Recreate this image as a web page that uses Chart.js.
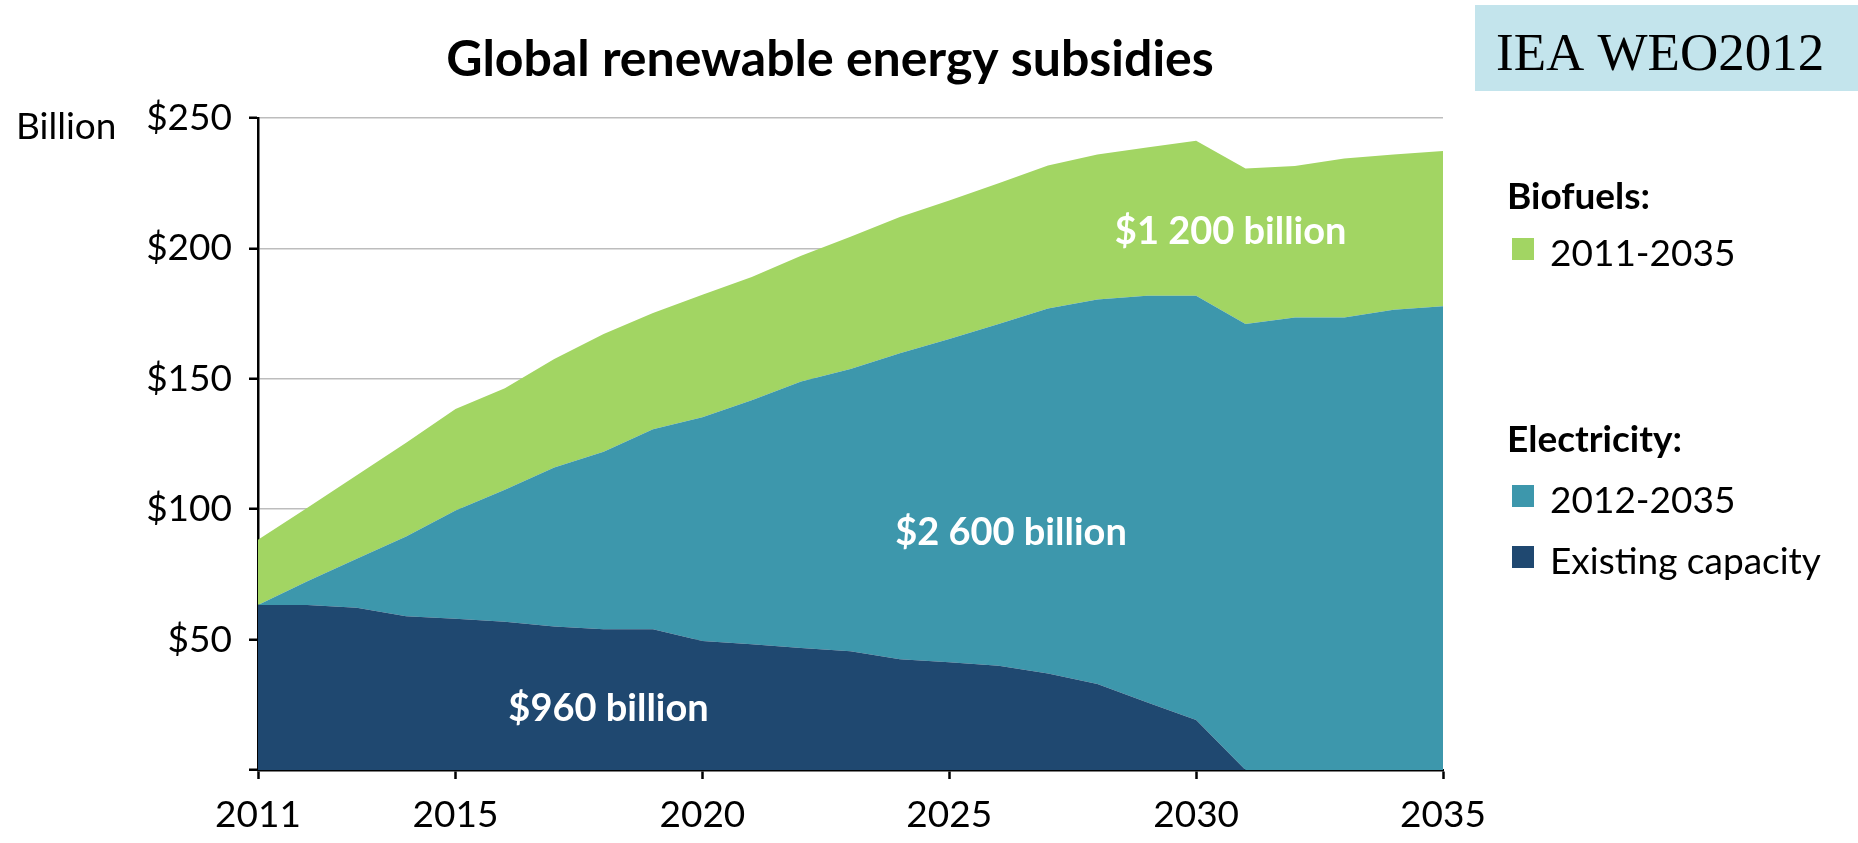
<!DOCTYPE html>
<html>
<head>
<meta charset="utf-8">
<script src="https://cdn.jsdelivr.net/npm/chart.js@4.4.1/dist/chart.umd.min.js"></script>
<style>
  html, body { margin: 0; padding: 0; background: #fff; }
  #wrap { width: 1858px; height: 843px; }
</style>
</head>
<body>
<div id="wrap"><canvas id="subsidies" width="1858" height="843"></canvas></div>
<script>
// Global renewable energy subsidies, $ billion per year
const years = [2011, 2012, 2013, 2014, 2015, 2016, 2017, 2018, 2019, 2020, 2021, 2022, 2023,
               2024, 2025, 2026, 2027, 2028, 2029, 2030, 2031, 2032, 2033, 2034, 2035];

// Electricity: existing capacity
const existingCapacity = [63.3, 63.3, 62.2, 59.0, 58.0, 56.8, 55.0, 54.0, 54.0, 49.5, 48.2, 46.8, 45.5,
                          42.5, 41.3, 40.0, 37.0, 33.0, 26.0, 19.2, 0, 0, 0, 0, 0];

// Electricity: capacity added 2012-2035
const electricityNew = [0, 9.1, 18.8, 30.5, 41.5, 50.7, 61.0, 68.0, 76.7, 85.8, 93.6, 102.2, 108.3,
                        117.3, 124.0, 131.0, 140.0, 147.4, 155.8, 162.6, 171.0, 173.5, 173.5, 176.5, 177.8];

// Biofuels 2011-2035
const biofuels = [25.0, 28.2, 32.0, 36.0, 38.9, 38.9, 41.6, 45.2, 44.5, 46.9, 47.2, 48.2, 50.7,
                  52.2, 53.1, 54.0, 54.8, 55.6, 56.9, 59.5, 59.6, 58.1, 61.0, 59.5, 59.5];

const xTickYears = [2011, 2015, 2020, 2025, 2030, 2035];
const yTickValues = [0, 50, 100, 150, 200, 250];

const GREEN = '#a2d563';
const TEAL = '#3d97ac';
const NAVY = '#1f4870';
const FONT = 'Lato, "Open Sans", sans-serif';

function points(values) {
  return years.map((yr, i) => ({ x: yr, y: values[i] }));
}

function areaSet(label, values, color, fill) {
  return {
    label: label,
    data: points(values),
    backgroundColor: color,
    borderWidth: 0,
    pointRadius: 0,
    tension: 0,
    fill: fill
  };
}

// totals written inside each area, placed in data coordinates
const areaLabels = [
  { text: '$1 200 billion', year: 2030.7, value: 206.5 },
  { text: '$2 600 billion', year: 2026.25, value: 91 },
  { text: '$960 billion', year: 2018.1, value: 23.5 }
];

const legendRows = [
  { text: 'Biofuels:', bold: true, y: 209 },
  { text: '2011-2035', color: GREEN, y: 266 },
  { text: 'Electricity:', bold: true, y: 452 },
  { text: '2012-2035', color: TEAL, y: 513 },
  { text: 'Existing capacity', color: NAVY, y: 574 }
];

const decorations = {
  id: 'decorations',
  afterDatasetsDraw(chart) {
    const ctx = chart.ctx;
    const xs = chart.scales.x, ys = chart.scales.y;
    ctx.save();
    ctx.fillStyle = '#fff';
    ctx.font = 'bold 38px ' + FONT;
    ctx.textAlign = 'center';
    ctx.textBaseline = 'middle';
    areaLabels.forEach(l => {
      ctx.fillText(l.text, xs.getPixelForValue(l.year), ys.getPixelForValue(l.value));
    });
    ctx.restore();
  },
  afterDraw(chart) {
    const ctx = chart.ctx;
    ctx.save();

    // title
    ctx.fillStyle = '#000';
    ctx.font = 'bold 50px ' + FONT;
    ctx.textAlign = 'center';
    ctx.textBaseline = 'alphabetic';
    ctx.fillText('Global renewable energy subsidies', 830, 76);

    // unit next to the top tick
    ctx.font = '37px ' + FONT;
    ctx.textAlign = 'left';
    ctx.textBaseline = 'middle';
    ctx.fillText('Billion', 16, chart.scales.y.getPixelForValue(250) + 9);

    // source box
    ctx.fillStyle = '#c3e4ec';
    ctx.fillRect(1475, 5, 383, 86);
    ctx.fillStyle = '#000';
    ctx.font = '53px "Liberation Serif", "Times New Roman", serif';
    ctx.textBaseline = 'alphabetic';
    ctx.fillText('IEA WEO2012', 1496, 70);

    // legend
    legendRows.forEach(r => {
      ctx.fillStyle = '#000';
      if (r.bold) {
        ctx.font = 'bold 37px ' + FONT;
        ctx.fillText(r.text, 1507, r.y);
      } else {
        ctx.fillStyle = r.color;
        ctx.fillRect(1512, r.y - 28, 22, 22);
        ctx.fillStyle = '#000';
        ctx.font = '37px ' + FONT;
        ctx.fillText(r.text, 1550, r.y);
      }
    });
    ctx.restore();
  }
};

new Chart(document.getElementById('subsidies'), {
  type: 'line',
  data: {
    datasets: [
      areaSet('Existing capacity', existingCapacity, NAVY, 'origin'),
      areaSet('2012-2035', electricityNew, TEAL, '-1'),
      areaSet('2011-2035', biofuels, GREEN, '-1')
    ]
  },
  options: {
    responsive: false,
    animation: false,
    devicePixelRatio: 1,
    layout: { padding: { top: 118, right: 415, left: 0, bottom: 0 } },
    plugins: {
      legend: { display: false },
      title: { display: false },
      tooltip: { enabled: false }
    },
    scales: {
      x: {
        type: 'linear',
        min: 2011,
        max: 2035,
        afterBuildTicks: scale => { scale.ticks = xTickYears.map(v => ({ value: v })); },
        afterFit: scale => { scale.height = 73; },
        grid: {
          drawOnChartArea: false,
          drawTicks: true,
          tickLength: 9,
          tickColor: '#000',
          tickWidth: 2.5
        },
        border: { display: true, color: '#000', width: 2.5 },
        ticks: {
          color: '#000',
          font: { family: FONT, size: 37 },
          padding: 14,
          maxRotation: 0,
          callback: v => String(v)
        }
      },
      y: {
        stacked: true,
        min: 0,
        max: 250,
        afterBuildTicks: scale => { scale.ticks = yTickValues.map(v => ({ value: v })); },
        afterFit: scale => { scale.width = 258; },
        grid: {
          color: '#bdbdbd',
          lineWidth: 1.5,
          borderDash: [2, 2],
          tickLength: 9,
          tickColor: '#000',
          tickWidth: 2.5,
          tickBorderDash: []
        },
        border: { display: true, color: '#000', width: 2.5 },
        ticks: {
          color: '#000',
          font: { family: FONT, size: 37 },
          padding: 17,
          callback: v => v === 0 ? '' : '$' + v
        }
      }
    }
  },
  plugins: [decorations]
});
</script>
</body>
</html>
